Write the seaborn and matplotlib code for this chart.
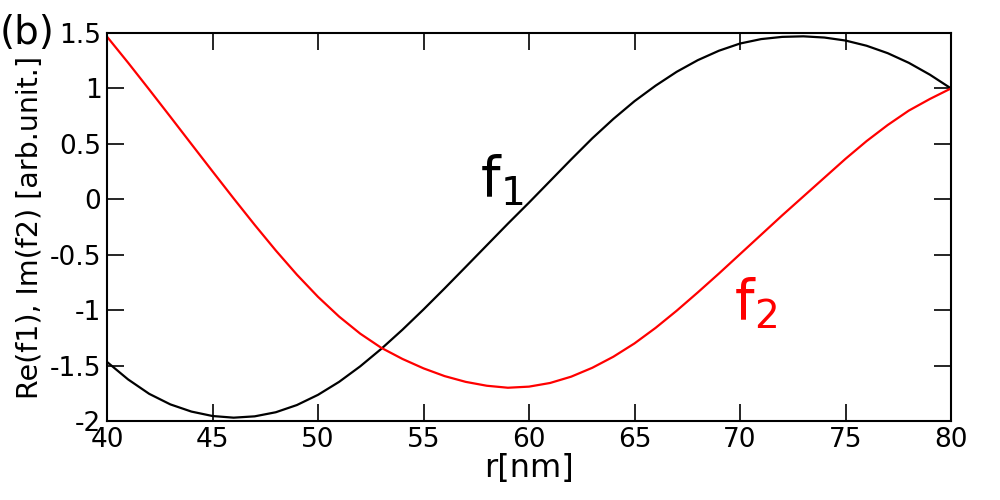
import numpy as np
import pandas as pd
import matplotlib
matplotlib.use("Agg")
import matplotlib.pyplot as plt
import seaborn as sns

r_nm = list(range(40, 81))
re_f1 = [-1.467, -1.625, -1.755, -1.85, -1.915, -1.955, -1.97, -1.958, -1.921, -1.856,
         -1.764, -1.647, -1.507, -1.349, -1.177, -0.994, -0.804, -0.61, -0.415, -0.22,
         -0.03, 0.165, 0.36, 0.55, 0.725, 0.885, 1.025, 1.15, 1.255, 1.34,
         1.405, 1.445, 1.465, 1.47, 1.459, 1.432, 1.385, 1.318, 1.231, 1.124, 1.00]
im_f2 = [1.467, 1.232, 0.99, 0.745, 0.498, 0.252, 0.008, -0.231, -0.462, -0.68,
         -0.88, -1.058, -1.212, -1.34, -1.44, -1.525, -1.595, -1.647, -1.682, -1.70,
         -1.69, -1.657, -1.60, -1.52, -1.42, -1.30, -1.16, -1.005, -0.84, -0.67,
         -0.495, -0.32, -0.145, 0.025, 0.195, 0.365, 0.525, 0.67, 0.80, 0.905, 1.00]
x_ticks = [40, 45, 50, 55, 60, 65, 70, 75, 80]
y_ticks = [-2, -1.5, -1, -0.5, 0, 0.5, 1, 1.5]
y_tick_labels = ["-2", "-1.5", "-1", "-0.5", "0", "0.5", "1", "1.5"]

sns.set_style("ticks")
plt.rcParams["font.family"] = ["DejaVu Sans"]
plt.rcParams["axes.unicode_minus"] = False
plt.rcParams["text.color"] = "black"
plt.rcParams["axes.labelcolor"] = "black"

df = pd.DataFrame({"r": r_nm, "f1": re_f1, "f2": im_f2})

fig = plt.figure(figsize=(10, 5), dpi=100)
ax = fig.add_axes([0.107, 0.158, 0.844, 0.776])

sns.lineplot(data=df, x="r", y="f1", ax=ax, color="black", linewidth=1.6)
sns.lineplot(data=df, x="r", y="f2", ax=ax, color="#ff0000", linewidth=1.6)

ax.set_xlim(40, 80)
ax.set_ylim(-2, 1.5)
ax.set_xticks(x_ticks)
ax.set_xticklabels([str(t) for t in x_ticks])
ax.set_yticks(y_ticks)
ax.set_yticklabels(y_tick_labels)
ax.tick_params(direction="in", length=12, width=1.2, top=True, right=True,
               labelsize=19, pad=4, colors="black")
for s in ax.spines.values():
    s.set_visible(True)
    s.set_linewidth(1.5)
    s.set_color("black")

ax.set_xlabel("r[nm]", fontsize=23, labelpad=0, color="black")
ax.set_ylabel("Re(f1), Im(f2) [arb.unit.]", fontsize=20.5, labelpad=4, color="black")

ax.text(57.7, 0.03, r"$\mathregular{f_1}$", fontsize=40, color="black")
ax.text(69.7, -1.08, r"$\mathregular{f_2}$", fontsize=40, color="#ff0000")
fig.text(0.0, 0.912, "(b)", fontsize=28, color="black")

fig.savefig("out.png", dpi=100)
